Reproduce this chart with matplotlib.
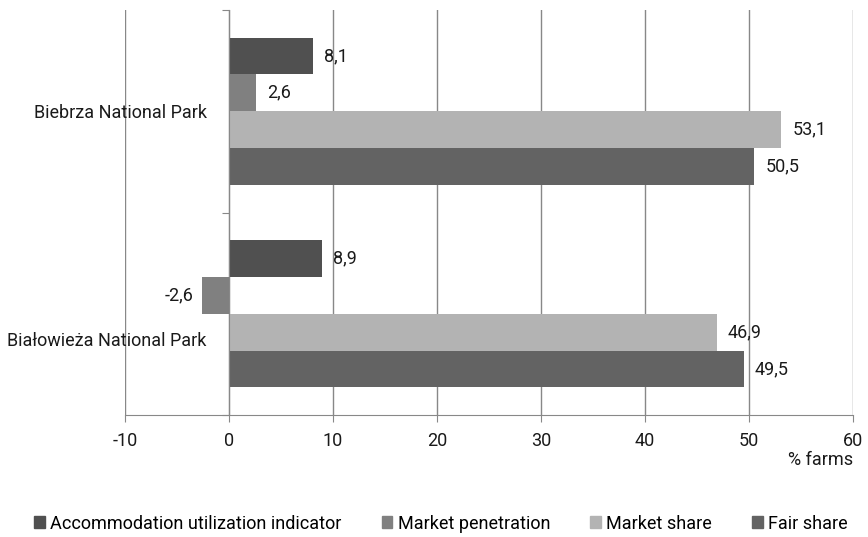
import numpy as np
import matplotlib.pyplot as plt
from matplotlib.patches import Patch
from matplotlib.transforms import ScaledTranslation

plt.rcParams['font.family'] = ['Roboto', 'DejaVu Sans']
plt.rcParams['axes.unicode_minus'] = False

parks = ['Biebrza National Park', 'Białowieża National Park']
series = ['Accommodation utilization indicator', 'Market penetration',
          'Market share', 'Fair share']
values = {
    'Accommodation utilization indicator': [8.1, 8.9],
    'Market penetration': [2.6, -2.6],
    'Market share': [53.1, 46.9],
    'Fair share': [50.5, 49.5],
}
colors = ['#505050', '#808080', '#b3b3b3', '#636363']

fig = plt.figure(figsize=(8.68, 5.37), dpi=100)
ax = fig.add_axes([125 / 868, 1 - 415 / 537, 728 / 868, 405 / 537])

fs = 13
tc = '#1a1a1a'
bar_h = 0.182
centers = np.array([0.5, 1.5])
for i, (name, col) in enumerate(zip(series, colors)):
    ypos = centers - 1.5 * bar_h + i * bar_h
    vals = values[name]
    ax.barh(ypos, vals, height=bar_h, color=col, zorder=2)
    for y, v in zip(ypos, vals):
        txt = f'{v:.1f}'.replace('.', ',')
        if v >= 0:
            ax.annotate(txt, (v, y), xytext=(8, 0), textcoords='offset points',
                        ha='left', va='center', fontsize=fs, color=tc)
        else:
            ax.annotate(txt, (v, y), xytext=(-6, 0), textcoords='offset points',
                        ha='right', va='center', fontsize=fs, color=tc)

ax.set_xlim(-10, 60)
ax.set_ylim(2, 0)
ax.set_xticks(np.arange(-10, 61, 10))
ax.tick_params(axis='x', length=5, color='#888888', labelsize=fs,
               labelcolor=tc, pad=7)
ax.grid(axis='x', color='#888888', linewidth=1, zorder=0)

ax.spines['left'].set_position(('data', 0))
ax.spines['left'].set_color('#888888')
ax.spines['bottom'].set_color('#888888')
ax.spines['top'].set_visible(False)
ax.spines['right'].set_visible(False)

ax.set_yticks([0, 1, 2])
ax.set_yticklabels([])
ax.tick_params(axis='y', which='major', length=5, color='#888888')
ax.set_yticks(centers, minor=True)
ax.set_yticklabels(parks, minor=True)
ax.tick_params(axis='y', which='minor', length=0, pad=16, labelsize=fs,
               labelcolor=tc)
lbl = ax.get_yticklabels(minor=True)[1]
lbl.set_transform(lbl.get_transform() + ScaledTranslation(0, -25 / 100, fig.dpi_scale_trans))

ax.text(1.0, -0.09, '% farms', transform=ax.transAxes, ha='right', va='top',
        fontsize=fs, color=tc)

handles = [Patch(color=c) for c in colors]
fig.legend(handles, series, loc='lower center', bbox_to_anchor=(0.508, -0.022),
           ncol=4, frameon=False, fontsize=fs, handlelength=0.6,
           handleheight=0.6, handletextpad=0.3, columnspacing=2.2)

fig.savefig('out.png', dpi=100)
